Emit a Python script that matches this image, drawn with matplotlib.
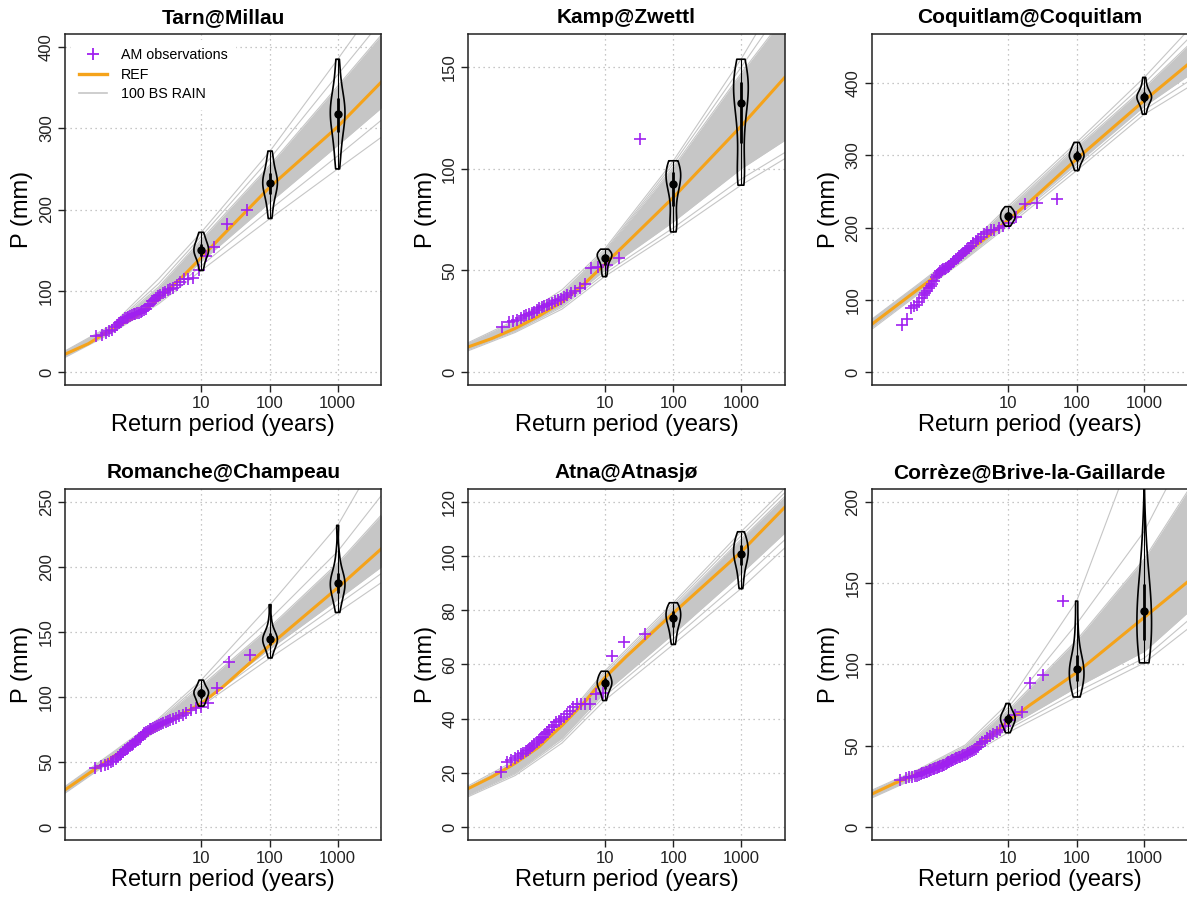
"""
Return-period plots: AM observations, REF curve and 100 bootstrap RAIN curves
"""

import numpy as np
import matplotlib
matplotlib.use('Agg')
import matplotlib.pyplot as plt
from matplotlib.lines import Line2D

plt.rcParams['font.family'] = ['Liberation Sans', 'DejaVu Sans']

# x axis is the Gumbel reduced variate u = -log(-log(F))
T_TICKS = [10, 100, 1000]
REF_U = [-2.4, -1.6, -0.8, 0.0, 0.8, 1.6, 2.25, 3.0, 4.6, 6.91, 8.4]
BS_U = [-2.4, -0.8, 0.8, 2.25, 4.6, 6.91, 8.4]

titles = ['Tarn@Millau', 'Kamp@Zwettl', 'Coquitlam@Coquitlam',
          'Romanche@Champeau', 'Atna@Atnasjø', 'Corrèze@Brive-la-Gaillarde']
y_max = [400, 160, 450, 250, 120, 200]
y_step = [100, 50, 100, 50, 20, 50]

# ---- Tarn@Millau ----
tarn_obs = [44, 46, 48, 50, 52, 55, 58, 60, 62, 64, 66, 67, 68, 69, 70,
            71, 72, 73, 73, 74, 75, 76, 78, 81, 84, 87, 89, 91, 93, 95,
            97, 99, 101, 102, 104, 107, 111, 114, 115, 116, 126, 143, 154, 182, 200]
tarn_ref = [22, 35, 53, 68, 90, 117, 141, 169, 228, 302, 357]
tarn_bs = [
    [18, 19, 20, 20.5, 21, 21.5, 21.5, 22, 22, 22.5, 23, 23, 23.5, 24, 25, 26],
    [48, 49, 50, 51, 51.5, 52, 52.5, 53, 53.5, 54, 54.5, 55, 55.5, 56, 57, 58],
    [84, 86, 88, 90, 91, 92, 93, 94, 95, 96, 98, 100, 102, 105, 109, 115],
    [125, 131, 136, 140, 143, 145, 147, 149, 151, 153, 155, 157, 160, 163, 167, 172],
    [189, 200, 209, 215, 220, 224, 228, 231, 234, 237, 240, 244, 249, 255, 263, 272],
    [250, 266, 279, 289, 297, 304, 310, 315, 320, 325, 330, 336, 343, 352, 366, 385],
    [289, 310, 325, 337, 347, 355, 362, 368, 374, 380, 387, 394, 403, 415, 432, 460],
]

# ---- Kamp@Zwettl ----
kamp_obs = [22, 24.4, 25, 25.5, 26.5, 27.5, 28, 28.5, 29, 29.7, 30.5, 31.3, 32,
            32.5, 33, 33.5, 34, 34.8, 35.5, 36.2, 37, 38, 39, 40, 41.5, 43.5,
            51, 51.5, 52.5, 56, 114.5]
kamp_ref = [12.4, 16.5, 21.5, 27.5, 34.5, 44, 53, 63.5, 86, 121, 145]
kamp_bs = [
    [10.5, 11, 11.3, 11.6, 11.9, 12.1, 12.3, 12.4, 12.5, 12.7, 12.9, 13.1, 13.4, 13.7, 14, 14.5],
    [19.5, 20, 20.5, 21, 21.3, 21.6, 21.9, 22.2, 22.5, 22.8, 23.1, 23.5, 23.9, 24.3, 24.8, 25.5],
    [31, 32, 32.8, 33.5, 34, 34.5, 35, 35.4, 35.8, 36.2, 36.7, 37.2, 37.8, 38.4, 39.2, 40.5],
    [47, 48.5, 50, 51.5, 53, 54, 55, 55.8, 56.4, 57, 57.5, 58, 58.5, 59, 59.5, 60.5],
    [69, 71, 74, 78, 83, 87, 90, 92, 93.5, 95, 96.5, 98, 99.5, 101, 102.5, 104],
    [92, 95, 100, 107, 115, 122, 127, 131, 134, 137, 139.5, 142, 144.5, 147, 150, 154],
    [105, 108, 114, 122, 132, 141, 148, 153, 157, 161, 164, 167, 171, 175, 181, 190],
]

# ---- Coquitlam@Coquitlam ----
coq_obs = [65, 74, 88, 91, 93, 97, 102, 106, 109, 112, 116, 119, 122, 126, 131,
           134, 137, 140, 141, 142, 143, 144, 146, 147, 149, 152, 154, 156, 158, 160,
           162, 165, 167, 170, 172, 175, 178, 181, 184, 187, 191, 194, 196, 197, 199,
           202, 207, 215, 233, 234, 240]
coq_ref = [66, 90.5, 115, 139.5, 164, 189, 210, 236, 295, 376, 426]
coq_bs = [
    [59, 61, 62, 63, 64, 65, 65.5, 66, 66.5, 67, 68, 69, 70, 71, 72, 73],
    [108, 109.5, 110.5, 111.5, 112.5, 113.5, 114, 114.5, 115, 115.5, 116.5, 117.5, 118.5, 119.5, 120.5, 122],
    [156, 157.5, 159, 160, 161, 162, 163, 163.5, 164.5, 165, 166, 167, 168, 169, 170, 172],
    [202, 205, 207.5, 209.5, 211, 212.5, 214, 215, 216.5, 218, 219.5, 221, 222.5, 224, 226, 229],
    [279, 284, 288, 291, 293.5, 295.5, 297.5, 299, 300.5, 302, 304, 306, 308.5, 311, 314, 318],
    [357, 363, 368, 371.5, 374, 376.5, 378.5, 380, 381.5, 383, 385, 387, 390, 394, 400, 408],
    [394, 402, 410, 415, 419, 422, 425, 428, 431, 434, 437, 441, 446, 452, 461, 473],
]

# ---- Romanche@Champeau ----
rom_obs = [45, 46.6, 47.5, 48.4, 50, 51, 52.3, 53.5, 55, 56,
           57.5, 59, 60, 61, 62, 63, 64, 65, 66, 67,
           68, 69.5, 71, 72, 73, 74, 75, 75.5, 76, 76.7,
           77.5, 78.5, 79.5, 80.3, 81, 81.8, 82.4, 83, 84, 85,
           86, 88, 90.3, 91.5, 92.2, 95.5, 107, 127, 132]
rom_ref = [28.6, 41, 53.5, 65, 77, 87, 95, 108, 140, 184, 214]
rom_bs = [
    [26, 26.5, 27, 27.5, 27.8, 28, 28.3, 28.5, 28.7, 29, 29.3, 29.6, 30, 30.3, 30.7, 31.2],
    [51, 51.5, 52, 52.4, 52.8, 53.1, 53.4, 53.7, 54, 54.3, 54.6, 55, 55.4, 55.8, 56.3, 57],
    [75, 75.8, 76.4, 77, 77.4, 77.8, 78.2, 78.6, 79, 79.4, 79.8, 80.3, 80.8, 81.4, 82.2, 83.5],
    [93, 95, 96.5, 98, 99.5, 100.5, 101.5, 102.5, 103.3, 104, 105, 106, 107, 108.5, 110.5, 113],
    [130, 134, 137, 139, 140.5, 142, 143, 144, 145, 146, 147.5, 149, 151, 154, 160, 171],
    [165, 171, 175, 178, 181, 183, 185, 187, 188.5, 190, 192, 194.5, 198, 203, 212, 232],
    [188, 195, 200, 204, 208, 211, 213.5, 216, 218, 220.5, 223, 227, 232, 240, 255, 290],
]

# ---- Atna@Atnasjø ----
atna_obs = [20.2, 23.9, 24.7, 25.5, 26.2, 26.8, 27.3, 28, 28.6, 29.3,
            29.9, 30.5, 31.2, 32, 32.7, 33.4, 34.2, 35, 35.8, 36.8,
            37.7, 38.6, 39.3, 39.9, 40.5, 41.8, 43, 44.3, 45.5, 45.5,
            45.5, 45.5, 49.2, 49.4, 63, 68.4, 71.4]
atna_ref = [14.2, 18.5, 23.5, 29.5, 37.5, 46.5, 55, 63, 79, 101.5, 118]
atna_bs = [
    [11.2, 11.6, 12, 12.3, 12.5, 12.7, 12.9, 13, 13.2, 13.4, 13.6, 13.8, 14, 14.3, 14.7, 15.2],
    [19, 19.6, 20.1, 20.5, 20.8, 21.1, 21.4, 21.6, 21.9, 22.2, 22.5, 22.8, 23.1, 23.5, 24, 24.6],
    [31, 32, 32.8, 33.4, 33.9, 34.3, 34.7, 35, 35.3, 35.7, 36.1, 36.5, 37, 37.5, 38, 38.7],
    [46.7, 48.3, 49.5, 50.4, 51.1, 51.7, 52.3, 52.8, 53.2, 53.7, 54.2, 54.8, 55.4, 56, 56.7, 57.5],
    [67.4, 69.5, 71.3, 72.8, 74, 75, 75.9, 76.7, 77.4, 78.1, 78.8, 79.5, 80.3, 81.1, 81.9, 82.8],
    [88, 91, 93.5, 95.5, 97, 98.2, 99.3, 100.3, 101.2, 102.1, 103, 104, 105, 106.2, 107.5, 109],
    [103, 106, 108.5, 110.5, 112, 113.3, 114.5, 115.6, 116.6, 117.6, 118.6, 119.7, 120.8, 122, 123.4, 125],
]

# ---- Corrèze@Brive-la-Gaillarde ----
corr_obs = [29, 30, 30.5, 31, 31.3, 31.5, 32, 32.5, 33, 33.4,
            33.8, 34.1, 34.5, 34.8, 35.1, 35.4, 35.8, 36.1, 36.4, 36.8,
            37.1, 37.4, 37.7, 38, 38.4, 38.8, 39.3, 39.8, 40.2, 40.6,
            41, 41.5, 41.9, 42.2, 42.6, 42.9, 43.3, 43.7, 44.1, 44.5,
            45, 45.5, 46, 46.5, 47.3, 48.2, 49.5, 50.8, 52, 53.2,
            54.5, 55.8, 57.2, 58.5, 59.8, 62, 66, 69, 71, 88.8, 93.7, 139]
corr_ref = [20.2, 27, 33, 39, 45.5, 55, 65, 75, 95, 129, 151]
corr_bs = [
    [17.8, 18.3, 18.7, 19, 19.3, 19.6, 19.8, 20, 20.2, 20.4, 20.6, 20.9, 21.2, 21.5, 22, 22.6],
    [30.8, 31.3, 31.7, 32, 32.3, 32.6, 32.8, 33, 33.2, 33.4, 33.7, 34, 34.3, 34.6, 35, 35.5],
    [42.5, 43.3, 44, 44.5, 45, 45.4, 45.8, 46.1, 46.4, 46.8, 47.2, 47.7, 48.2, 48.8, 49.5, 50.5],
    [58, 60, 61.5, 62.8, 63.8, 64.7, 65.5, 66.3, 67, 67.8, 68.6, 69.5, 70.5, 71.7, 73.3, 76],
    [80, 83, 86, 88.5, 90.5, 92.5, 94.5, 96.5, 98, 100, 102, 105, 109, 115, 125, 139],
    [101, 104, 108, 112, 116, 121, 126, 131, 135, 139, 143, 148, 155, 165, 182, 250],
    [122, 127, 132, 137, 142, 147, 153, 159, 164, 169, 175, 182, 192, 207, 234, 340],
]

all_obs = [tarn_obs, kamp_obs, coq_obs, rom_obs, atna_obs, corr_obs]
all_ref = [tarn_ref, kamp_ref, coq_ref, rom_ref, atna_ref, corr_ref]
all_bs = [tarn_bs, kamp_bs, coq_bs, rom_bs, atna_bs, corr_bs]

ORANGE = '#F5A31A'
PURPLE = '#A020F0'
GREY = '#C6C6C6'
GRID = '#B4B4B4'


def gumbel(T):
    T = np.asarray(T, dtype=float)
    return -np.log(-np.log(1 - 1 / T))


def draw_panel(ax, title, obs, ref, bs, ymax, ystep):
    ax.set_xlim(-2.4, 8.4)
    ax.set_ylim(-0.04 * ymax, 1.04 * ymax)
    xt = gumbel(T_TICKS)
    yt = np.arange(0, ymax + 0.1, ystep)

    # dotted grid
    for v in xt:
        ax.axvline(v, color=GRID, ls=(0, (1, 3)), lw=0.9, zorder=0)
    for v in yt:
        ax.axhline(v, color=GRID, ls=(0, (1, 3)), lw=0.9, zorder=0)

    # bootstrap curves
    curves = np.array(bs).T
    ax.fill_between(BS_U, curves[2], curves[-3], color=GREY, lw=0, zorder=1)
    for c in curves:
        ax.plot(BS_U, c, color=GREY, lw=0.8, zorder=1)

    ax.plot(REF_U, ref, color=ORANGE, lw=2.2, zorder=2)

    # observations at Weibull plotting positions
    obs = np.sort(np.asarray(obs, dtype=float))
    n = len(obs)
    pp = np.arange(1, n + 1) / (n + 1)
    ax.plot(-np.log(-np.log(pp)), obs, ls='none', marker='+', ms=8, mew=1.2,
            color=PURPLE, zorder=3)

    # violins of the bootstrap values at T = 10, 100, 1000
    samples = [np.array(bs[i]) for i in (3, 4, 5)]
    vp = ax.violinplot(samples, positions=xt, widths=0.5, showextrema=False,
                       bw_method=0.42)
    for body in vp['bodies']:
        body.set_alpha(1)
        body.set_facecolor('none')
        body.set_edgecolor('black')
        body.set_linewidth(1.2)
        body.set_zorder(4)
    for x, s in zip(xt, samples):
        q1, med, q3 = np.percentile(s, [25, 50, 75])
        ax.vlines(x, s.min(), s.max(), color='black', lw=0.8, zorder=4)
        ax.vlines(x, q1, q3, color='black', lw=2, zorder=4)
        ax.plot(x, med, 'o', color='black', ms=5, zorder=5)

    ax.set_xticks(xt)
    ax.set_xticklabels([str(t) for t in T_TICKS])
    ax.set_yticks(yt)
    ax.set_yticklabels([f'{v:g}' for v in yt])
    ax.tick_params(axis='both', direction='out', length=5, width=1, pad=3,
                   labelsize=12, colors='#222222')
    ax.tick_params(axis='y', labelrotation=90)
    for lbl in ax.get_yticklabels():
        lbl.set_va('center')
    for s in ax.spines.values():
        s.set_linewidth(1.1)
        s.set_color('#222222')

    ax.set_title(title, fontsize=15, fontweight='bold', pad=8)
    ax.set_xlabel('Return period (years)', fontsize=17, labelpad=2)
    ax.set_ylabel('P (mm)', fontsize=17, labelpad=4)


fig, axes = plt.subplots(2, 3, figsize=(11.87, 8.98), dpi=100)
fig.subplots_adjust(left=0.0548, right=1.0008, bottom=0.0646, top=0.9621,
                    wspace=0.275, hspace=0.296)

for i, ax in enumerate(axes.flat):
    draw_panel(ax, titles[i], all_obs[i], all_ref[i], all_bs[i], y_max[i], y_step[i])

handles = [Line2D([], [], ls='none', marker='+', ms=9, mew=1.3, color=PURPLE),
           Line2D([], [], color=ORANGE, lw=2.4),
           Line2D([], [], color=GREY, lw=1.2)]
leg = axes[0, 0].legend(handles, ['AM observations', 'REF', '100 BS RAIN'],
                        loc='upper left', fontsize=10.3, frameon=True,
                        facecolor='white', edgecolor='white', framealpha=1,
                        fancybox=False, handlelength=1.9, handletextpad=1.0,
                        labelspacing=0.38, borderpad=0.55, borderaxespad=0.45)
leg.set_zorder(10)

fig.savefig('out.png', dpi=100)
